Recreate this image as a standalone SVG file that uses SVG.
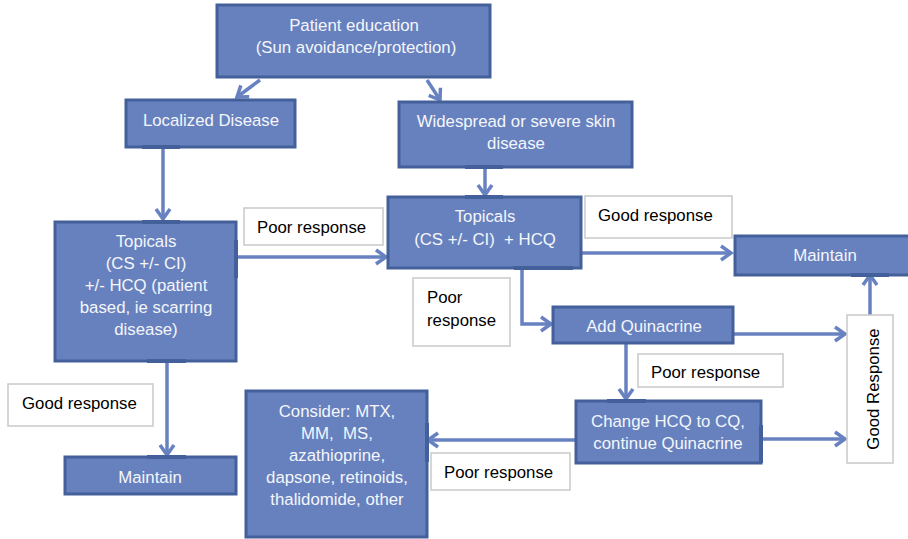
<svg xmlns="http://www.w3.org/2000/svg" width="908" height="539" viewBox="0 0 908 539">
<style>
.box{fill:#6781be;stroke:#44609b;stroke-width:3}
.tab{fill:#44609b}
.lbl{fill:#ffffff;stroke:#c9c9c9;stroke-width:1.5}
.bt{font-family:"Liberation Sans",Arial,sans-serif;font-size:16.8px;fill:#f4f6fb;text-anchor:middle;white-space:pre}
.lt{font-family:"Liberation Sans",Arial,sans-serif;font-size:16.8px;fill:#000000;white-space:pre}
.con{fill:none;stroke:#6882c1;stroke-width:3.5}
</style>
<defs>
<marker id="ah" markerUnits="userSpaceOnUse" markerWidth="16" markerHeight="18" viewBox="0 0 16 18" refX="12" refY="9" orient="auto">
<path d="M2,2 L12,9 L2,16" fill="none" stroke="#6882c1" stroke-width="3.5" stroke-linejoin="miter"/>
</marker>
</defs>
<rect width="908" height="539" fill="#ffffff"/>

<g id="connectors">
<path class="con" d="M260,80 L237,97" marker-end="url(#ah)"/>
<path class="con" d="M427,80 L440,100" marker-end="url(#ah)"/>
<path class="con" d="M163,148 L163,219" marker-end="url(#ah)"/>
<path class="con" d="M485,167 L485,195" marker-end="url(#ah)"/>
<path class="con" d="M236,257 L386,257" marker-end="url(#ah)"/>
<path class="con" d="M581,253 L731,253" marker-end="url(#ah)"/>
<path class="con" d="M522,268 L522,324 L551,324" marker-end="url(#ah)"/>
<path class="con" d="M733,334 L845,334" marker-end="url(#ah)"/>
<path class="con" d="M870,315 L870,275" marker-end="url(#ah)"/>
<path class="con" d="M626,343 L626,399" marker-end="url(#ah)"/>
<path class="con" d="M761,439 L845,439" marker-end="url(#ah)"/>
<path class="con" d="M576,440 L428,440" marker-end="url(#ah)"/>
<path class="con" d="M167,361 L167,455" marker-end="url(#ah)"/>
</g>

<g id="patient-education">
<rect class="box" x="217" y="5" width="273" height="72"/>
<text class="bt" x="354" y="31">Patient education</text>
<text class="bt" x="356" y="53">(Sun avoidance/protection)</text>
</g>

<g id="localized-disease">
<rect class="box" x="126" y="100" width="169" height="47"/>
<rect class="tab" x="142" y="145" width="38" height="4"/>
<text class="bt" x="211" y="126">Localized Disease</text>
</g>

<g id="widespread">
<rect class="box" x="399" y="102" width="233" height="65"/>
<rect class="tab" x="465" y="165" width="38" height="4"/>
<text class="bt" x="516" y="127">Widespread or severe skin</text>
<text class="bt" x="516" y="149">disease</text>
</g>

<g id="topicals-left">
<rect class="box" x="55" y="222" width="181" height="139"/>
<rect class="tab" x="142" y="220" width="38" height="4"/>
<rect class="tab" x="147" y="359" width="39" height="4"/>
<rect class="tab" x="234" y="240" width="4" height="38"/>
<text class="bt" x="146" y="247">Topicals</text>
<text class="bt" x="146" y="269">(CS +/- CI)</text>
<text class="bt" x="146" y="291">+/- HCQ (patient</text>
<text class="bt" x="146" y="313">based, ie scarring</text>
<text class="bt" x="146" y="335">disease)</text>
</g>

<g id="label-poor-1">
<rect class="lbl" x="244" y="208" width="139" height="37"/>
<text class="lt" x="257" y="233">Poor response</text>
</g>

<g id="topicals-hcq">
<rect class="box" x="388" y="197" width="193" height="71"/>
<rect class="tab" x="465" y="195" width="38" height="4"/>
<rect class="tab" x="514" y="266" width="59" height="4"/>
<text class="bt" x="485" y="222">Topicals</text>
<text class="bt" x="485" y="245">(CS +/- CI)  + HCQ</text>
</g>

<g id="label-good-1">
<rect class="lbl" x="585" y="196" width="147" height="42"/>
<text class="lt" x="598" y="221">Good response</text>
</g>

<g id="maintain-right">
<rect class="box" x="735" y="236" width="175" height="39"/>
<rect class="tab" x="851" y="273" width="38" height="4"/>
<text class="bt" x="825" y="261">Maintain</text>
</g>

<g id="label-poor-2">
<rect class="lbl" x="413" y="278" width="97" height="68"/>
<text class="lt" x="427" y="303">Poor</text>
<text class="lt" x="427" y="326">response</text>
</g>

<g id="add-quinacrine">
<rect class="box" x="553" y="307" width="180" height="36"/>
<text class="bt" x="644" y="332">Add Quinacrine</text>
</g>

<g id="label-good-vertical">
<rect class="lbl" x="847" y="315" width="46" height="148"/>
<text class="lt" x="0" y="0" text-anchor="middle" transform="translate(879,389) rotate(-90)">Good Response</text>
</g>

<g id="label-poor-3">
<rect class="lbl" x="638" y="354" width="145" height="33"/>
<text class="lt" x="651" y="378">Poor response</text>
</g>

<g id="change-hcq">
<rect class="box" x="576" y="401" width="185" height="62"/>
<rect class="tab" x="607" y="399" width="39" height="4"/>
<rect class="tab" x="759" y="425" width="4" height="38"/>
<text class="bt" x="668" y="427">Change HCQ to CQ,</text>
<text class="bt" x="668" y="449">continue Quinacrine</text>
</g>

<g id="consider">
<rect class="box" x="246" y="391" width="181" height="146"/>
<rect class="tab" x="425" y="423" width="4" height="39"/>
<text class="bt" x="337" y="417">Consider: MTX,</text>
<text class="bt" x="337" y="439">MM,  MS,</text>
<text class="bt" x="337" y="461">azathioprine,</text>
<text class="bt" x="337" y="483">dapsone, retinoids,</text>
<text class="bt" x="337" y="505">thalidomide, other</text>
</g>

<g id="label-poor-4">
<rect class="lbl" x="431" y="453" width="139" height="37"/>
<text class="lt" x="444" y="478">Poor response</text>
</g>

<g id="label-good-2">
<rect class="lbl" x="8" y="384" width="145" height="42"/>
<text class="lt" x="22" y="409">Good response</text>
</g>

<g id="maintain-left">
<rect class="box" x="65" y="457" width="171" height="37"/>
<rect class="tab" x="147" y="455" width="39" height="4"/>
<text class="bt" x="150" y="483">Maintain</text>
</g>
</svg>
